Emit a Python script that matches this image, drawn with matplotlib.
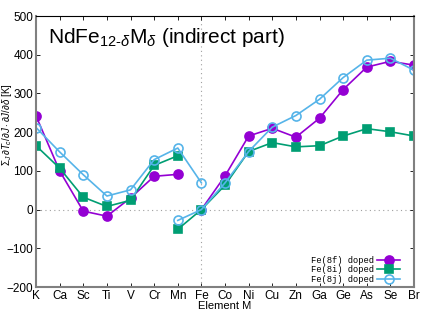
import numpy as np
import matplotlib
matplotlib.use("Agg")
import matplotlib.pyplot as plt

plt.rcParams["font.family"] = ["Liberation Sans", "DejaVu Sans"]
plt.rcParams["mathtext.fontset"] = "custom"
plt.rcParams["mathtext.rm"] = "Liberation Sans"
plt.rcParams["mathtext.it"] = "Liberation Sans:italic"
plt.rcParams["mathtext.sf"] = "Liberation Sans"

nan = np.nan

elements = ["K", "Ca", "Sc", "Ti", "V", "Cr", "Mn", "Fe", "Co",
            "Ni", "Cu", "Zn", "Ga", "Ge", "As", "Se", "Br"]

# two branches per series (light elements up to Mn/Fe, then Mn/Fe onward)
f8_first = [242, 100, -4, -17, 30, 86, 91, nan, nan, nan, nan, nan, nan, nan, nan, nan, nan]
f8_second = [nan, nan, nan, nan, nan, nan, nan, 0, 87, 190, 210, 187, 236, 310, 368, 383, 373]

i8_first = [165, 107, 32, 8, 24, 114, 139, nan, nan, nan, nan, nan, nan, nan, nan, nan, nan]
i8_second = [nan, nan, nan, nan, nan, nan, -51, 0, 63, 150, 173, 162, 165, 190, 209, 201, 190]

j8_first = [212, 149, 90, 35, 51, 129, 159, 69, nan, nan, nan, nan, nan, nan, nan, nan, nan]
j8_second = [nan, nan, nan, nan, nan, nan, -28, 0, 69, 150, 213, 243, 285, 341, 386, 391, 360]

series = [
    ("Fe(8f) doped", f8_first, f8_second, "#9400d3", "o", True),
    ("Fe(8i) doped", i8_first, i8_second, "#009e73", "s", True),
    ("Fe(8j) doped", j8_first, j8_second, "#56b4e9", "o", False),
]


def main():
    fig = plt.figure(figsize=(4.36, 3.12), dpi=100)
    ax = fig.add_axes([0.0826, 0.0801, 0.867, 0.8686])

    x = np.arange(len(elements))

    # dotted zero line and Fe line
    ax.axhline(0, color="#a0a0a0", lw=0.8, ls=(0, (1, 3)), zorder=0)
    ax.axvline(elements.index("Fe"), color="#a0a0a0", lw=0.8, ls=(0, (1, 3)), zorder=0)

    for label, first, second, color, marker, filled in series:
        kw = dict(color=color, lw=1.2, marker=marker, ms=6.5 if marker == "o" else 6,
                  mec=color, mfc=color if filled else "none", mew=1.2)
        ax.plot(x, first, label=label, **kw)
        ax.plot(x, second, **kw)

    ax.set_xlim(0, len(elements) - 1)
    ax.set_ylim(-200, 500)
    ax.set_xticks(x)
    ax.set_xticklabels(elements)
    ax.set_yticks(np.arange(-200, 501, 100))
    ax.tick_params(direction="in", top=True, right=True, labelsize=8.5,
                   length=3, width=0.6, pad=2, colors="black")

    for side in ["left", "right", "bottom"]:
        ax.spines[side].set_color("#808080")
        ax.spines[side].set_linewidth(1.5)
    ax.spines["top"].set_linewidth(0.8)

    ax.set_xlabel("Element M", fontsize=8)
    ax.xaxis.set_label_coords(0.5, -0.053)
    ax.set_ylabel(r"$\Sigma_J\,\partial T_c/\partial J\cdot\partial J/\partial\delta$ [K]",
                  fontsize=7)
    ax.yaxis.set_label_coords(-0.058, 0.6)

    ax.text(0.032, 0.9, r"NdFe$_{\mathrm{12\text{-}}\delta}$M$_\delta$ (indirect part)",
            transform=ax.transAxes, fontsize=15, va="baseline")

    ax.legend(loc="lower right", bbox_to_anchor=(0.968, 0.005), frameon=False,
              markerfirst=False, handlelength=2.6, handletextpad=0.4,
              labelspacing=0.05, borderaxespad=0, borderpad=0.2,
              prop={"family": "Liberation Mono", "size": 6.3})

    fig.savefig("out.png", dpi=100)


if __name__ == "__main__":
    main()
